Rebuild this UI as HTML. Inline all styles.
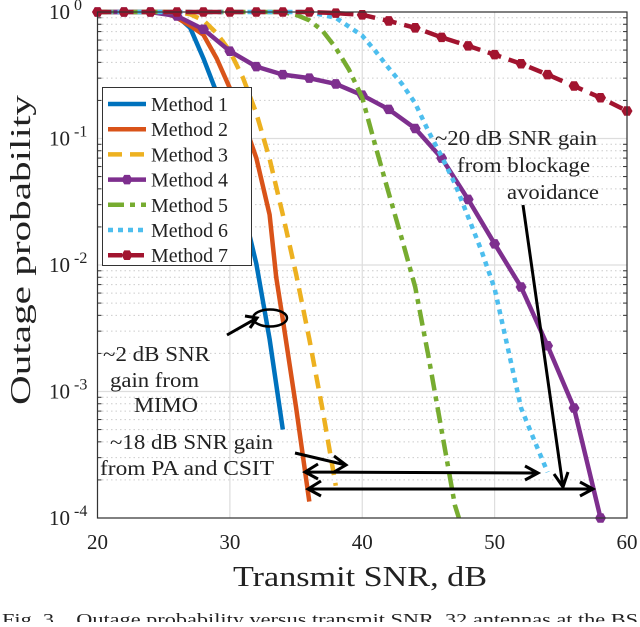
<!DOCTYPE html>
<html><head><meta charset="utf-8"><style>
body{margin:0;background:#fff;width:640px;height:622px;overflow:hidden}
svg text{font-family:"Liberation Serif",serif;fill:#222}
</style></head><body>
<svg id="chart" width="640" height="622" viewBox="0 0 640 622" xmlns="http://www.w3.org/2000/svg">
<g id="grid"></g>
<g id="series"></g>
<g id="axes"></g>
<g id="ann" stroke="#000" fill="none" stroke-width="3">
 <ellipse cx="270" cy="318" rx="17" ry="8.5" stroke-width="2.5"/>
 <path d="M227,335 L257,318 M245,316 L257,318 L250,328"/>
 <path d="M295,453 L346,465 M334,456 L346,465 L334,472"/>
 <path d="M305,472 L538,473 M318,464 L305,472 L318,479 M525,466 L538,473 L525,480"/>
 <path d="M308,489 L593,489 M321,481 L308,489 L321,496 M580,482 L593,489 L580,496"/>
 <path d="M523,205 L563,487 M554,474 L563,487 L568,472"/>
</g>
<g font-size="21">
 <text x="103" y="361" textLength="107" lengthAdjust="spacingAndGlyphs">~2 dB SNR</text>
 <text x="110" y="387" textLength="89" lengthAdjust="spacingAndGlyphs">gain from</text>
 <text x="134" y="412" textLength="64" lengthAdjust="spacingAndGlyphs">MIMO</text>
 <text x="110" y="449" textLength="163" lengthAdjust="spacingAndGlyphs">~18 dB SNR gain</text>
 <text x="100" y="475" textLength="174" lengthAdjust="spacingAndGlyphs">from PA and CSIT</text>
 <text x="435" y="145" textLength="162" lengthAdjust="spacingAndGlyphs">~20 dB SNR gain</text>
 <text x="457" y="172" textLength="133" lengthAdjust="spacingAndGlyphs">from blockage</text>
 <text x="507" y="199" textLength="92" lengthAdjust="spacingAndGlyphs">avoidance</text>
</g>
<g id="legend"></g>
<text x="233" y="586" font-size="28" textLength="254" lengthAdjust="spacingAndGlyphs">Transmit SNR, dB</text>
<text transform="translate(30,405) rotate(-90)" font-size="28" textLength="310" lengthAdjust="spacingAndGlyphs">Outage probability</text>
<text x="2" y="625" font-size="17" textLength="636" lengthAdjust="spacingAndGlyphs" xml:space="preserve">Fig. 3.   Outage probability versus transmit SNR, 32 antennas at the BS</text>
</svg>
<script>
const xTicks=[20,30,40,50,60];
const yTickExps=[0,-1,-2,-3,-4];
const x1=[20,21,22,23,24,25,26,27,28,29,30,31,32,33,34];
const y1=[1,1,1,1,1,1,0.93,0.75,0.43,0.23,0.083,0.028,0.0102,0.0026,0.0005];
const x2=[20,22,24,25,26,27,28,29,30,31,32,33,33.5,34,35,36];
const y2=[1,1,1,1,0.9,0.78,0.66,0.43,0.25,0.14,0.07,0.025,0.008,0.0037,0.00075,0.000135];
const x3=[20,22,24,26,27,28,29,30,31,32,33,34,35,36,37,38];
const y3=[1,1,1,1,0.96,0.86,0.68,0.49,0.3,0.158,0.069,0.025,0.0085,0.0026,0.00072,0.00018];
const x4=[20,22,24,26,28,30,32,34,36,38,40,42,44,46,48,50,52,54,56,58];
const y4=[1,1,1,0.93,0.73,0.49,0.37,0.32,0.3,0.27,0.22,0.17,0.12,0.07,0.033,0.0147,0.0067,0.0023,0.00074,0.0001];
const x5=[20,26,30,34,35,36,37,38,39,40,41,42,43,44,45,46,47,47.3];
const y5=[1,1,1,1,0.95,0.86,0.71,0.52,0.35,0.21,0.087,0.037,0.016,0.0067,0.0019,0.00049,0.000126,0.0001];
const x6=[20,30,36,38,40,41,42,43,44,45,46,47,48,49,50,51,52,53,54];
const y6=[1,1,1,0.9,0.65,0.49,0.36,0.27,0.19,0.114,0.072,0.044,0.024,0.013,0.0065,0.0022,0.00074,0.00041,0.00023];
const x7=[20,22,24,26,28,30,32,34,36,38,40,42,44,46,48,50,52,54,56,58,60];
const y7=[1,1,1,1,1,1,1,1,1,0.98,0.95,0.85,0.75,0.63,0.54,0.46,0.39,0.32,0.26,0.21,0.165];
const names=["Method 1","Method 2","Method 3","Method 4","Method 5","Method 6","Method 7"];

const L=97.5,R=627,T=12,B=518;
const sx=v=>L+(v-20)/40*(R-L);
const sy=p=>T+(-Math.log10(p))/4*(B-T);
const NS="http://www.w3.org/2000/svg";
function mk(tag,attrs,parent){const e=document.createElementNS(NS,tag);for(const k in attrs)e.setAttribute(k,attrs[k]);parent.appendChild(e);return e;}
const grid=document.getElementById('grid'),axes=document.getElementById('axes'),ser=document.getElementById('series'),leg=document.getElementById('legend');

for(let d=0;d<4;d++){for(let m=2;m<=9;m++){const y=sy(m*Math.pow(10,-d-1));
 const g=mk('line',{x1:L,x2:R,y1:y,y2:y,stroke:'#ccc','stroke-width':1,'stroke-dasharray':'1.5,3'},grid);
 
 for(const xx of [L,R]){const t=mk('line',{x1:xx,x2:xx+(xx==L?4:-4),y1:y,y2:y,stroke:'#333','stroke-width':1},axes);}
}}
yTickExps.forEach(e=>{const y=sy(Math.pow(10,e));
 const g=mk('line',{x1:L,x2:R,y1:y,y2:y,stroke:'#ddd','stroke-width':1.2},grid);
 
 const t=mk('text',{x:70,y:y+7,'text-anchor':'end','font-size':21},axes);t.textContent='10';
 
 const s=mk('text',{x:74,y:y-2,'font-size':16},axes);s.textContent=String(e);
 
});
xTicks.forEach(v=>{const x=sx(v);
 const g=mk('line',{x1:x,x2:x,y1:T,y2:B,stroke:'#ddd','stroke-width':1.2},grid);
 
 const t=mk('text',{x:x,y:549,'text-anchor':'middle','font-size':21},axes);t.textContent=v;
 
});
const box=mk('rect',{x:L,y:T,width:R-L,height:B-T,fill:'none',stroke:'#333','stroke-width':1.2},axes);


const styles=[
 {c:'#0072BD',d:null},{c:'#D95319',d:null},{c:'#EDB120',d:'14,8'},
 {c:'#7E2F8E',d:null,m:true},{c:'#77AC30',d:'16,6,5,6'},{c:'#4DBEEE',d:'5,5'},
 {c:'#A2142F',d:'14,8',m:true}];
const xs=[x1,x2,x3,x4,x5,x6,x7],ys=[y1,y2,y3,y4,y5,y6,y7];
function marker(x,y,c,parent){const e=mk('polygon',{points:[0,1,2,3,4,5].map(i=>{const a=Math.PI/3*i;return (x+5.5*Math.cos(a))+','+(y+5.5*Math.sin(a));}).join(' '),fill:c},parent);
 }
xs.forEach((X,i)=>{const st=styles[i];
 const pts=X.map((v,j)=>sx(v)+','+sy(ys[i][j])).join(' ');
 const a={points:pts,fill:'none',stroke:st.c,'stroke-width':4.5,'stroke-linejoin':'round'};
 if(st.d)a['stroke-dasharray']=st.d;
 const p=mk('polyline',a,ser);
 
 if(st.m)X.forEach((v,j)=>marker(sx(v),sy(ys[i][j]),st.c,ser));
});
const lb=mk('rect',{x:102.5,y:87.5,width:149,height:178,fill:'#fff',stroke:'#333','stroke-width':1},leg);

names.forEach((n,i)=>{const y=104+i*25.2,st=styles[i];
 const g=mk('g',{},leg);
 const a={x1:108,x2:146,y1:y,y2:y,stroke:st.c,'stroke-width':4.5};if(st.d)a['stroke-dasharray']=st.d;
 const l=mk('line',a,g);
 if(st.m)marker(127,y,st.c,g);
 const t=mk('text',{x:151,y:y+7,'font-size':20,textLength:77,lengthAdjust:'spacingAndGlyphs'},g);t.textContent=n;
 
});
</script>
</body></html>
